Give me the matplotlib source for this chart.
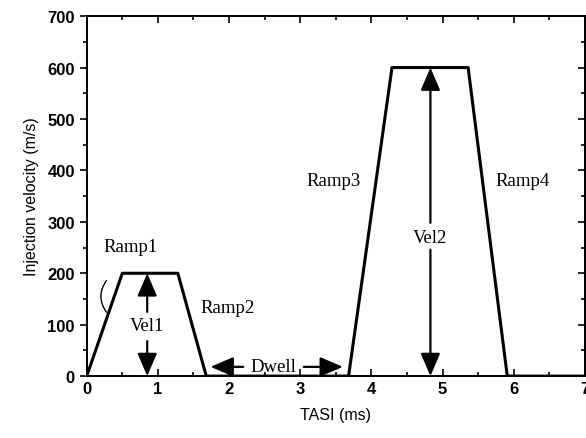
import numpy as np
import matplotlib.pyplot as plt
from matplotlib.ticker import MultipleLocator

# velocity profile corners
t = [0, 0.5, 1.28, 1.68, 3.68, 4.29, 5.36, 5.91, 7.0]
vel = [0, 200, 200, 0, 0, 600, 600, 0, 0]

fig = plt.figure(figsize=(5.86, 4.39), dpi=100)
ax = fig.add_axes([0.148, 0.141, 0.85, 0.82])

ax.plot(t, vel, color='black', lw=2.2)
ax.set_xlim(0, 7)
ax.set_ylim(0, 700)

ax.xaxis.set_major_locator(MultipleLocator(1))
ax.xaxis.set_minor_locator(MultipleLocator(0.5))
ax.yaxis.set_major_locator(MultipleLocator(100))
ax.yaxis.set_minor_locator(MultipleLocator(50))
ax.tick_params(which='both', top=True, labelsize=12, width=1.2)
ax.tick_params(which='major', length=5)
ax.tick_params(which='minor', length=3)
ax.tick_params(axis='x', which='both', direction='in')
ax.tick_params(axis='y', which='both', direction='out', right=False)
for lab in ax.get_xticklabels() + ax.get_yticklabels():
    lab.set_fontweight('bold')
    lab.set_family('Liberation Sans')
for s in ax.spines.values():
    s.set_linewidth(1.4)

# right side ticks point inward
sec = ax.secondary_yaxis('right')
sec.yaxis.set_major_locator(MultipleLocator(100))
sec.yaxis.set_minor_locator(MultipleLocator(50))
sec.tick_params(which='both', direction='in', labelright=False, width=1.2)
sec.tick_params(which='major', length=5)
sec.tick_params(which='minor', length=3)
sec.spines['right'].set_linewidth(1.4)

ax.set_xlabel('TASI (ms)', fontsize=11.5, family='Liberation Sans', labelpad=8)
ax.set_ylabel('Injection velocity (m/s)', fontsize=11.5, family='Liberation Sans', labelpad=6)

ser = dict(family='Liberation Serif', fontsize=13.5, ha='center', va='center')
arr = dict(arrowstyle='-|>,head_length=0.7,head_width=0.3', color='black', lw=1.6,
           mutation_scale=20, shrinkA=0, shrinkB=0)

# Vel1
ax.annotate('', xy=(0.85, 200), xytext=(0.85, 125), arrowprops=arr)
ax.annotate('', xy=(0.85, 0), xytext=(0.85, 68), arrowprops=arr)
ax.text(0.85, 98, 'Vel1', **ser)

# Vel2
ax.annotate('', xy=(4.83, 600), xytext=(4.83, 298), arrowprops=arr)
ax.annotate('', xy=(4.83, 0), xytext=(4.83, 246), arrowprops=arr)
ax.text(4.83, 270, 'Vel2', **ser)

# Dwell
ax.text(2.62, 18, 'Dwell', **ser)
ax.annotate('', xy=(1.74, 18), xytext=(2.2, 18), arrowprops=arr)
ax.annotate('', xy=(3.6, 18), xytext=(3.05, 18), arrowprops=arr)

ax.text(0.62, 252, 'Ramp1', **ser)
ax.annotate('', xy=(0.3, 120), xytext=(0.3, 190),
            arrowprops=dict(arrowstyle='-', color='black', lw=1.0,
                            connectionstyle='arc3,rad=0.4'))
ax.text(1.98, 134, 'Ramp2', **ser)
ax.text(3.47, 380, 'Ramp3', **ser)
ax.text(6.13, 380, 'Ramp4', **ser)

fig.savefig('out.png', dpi=100)
